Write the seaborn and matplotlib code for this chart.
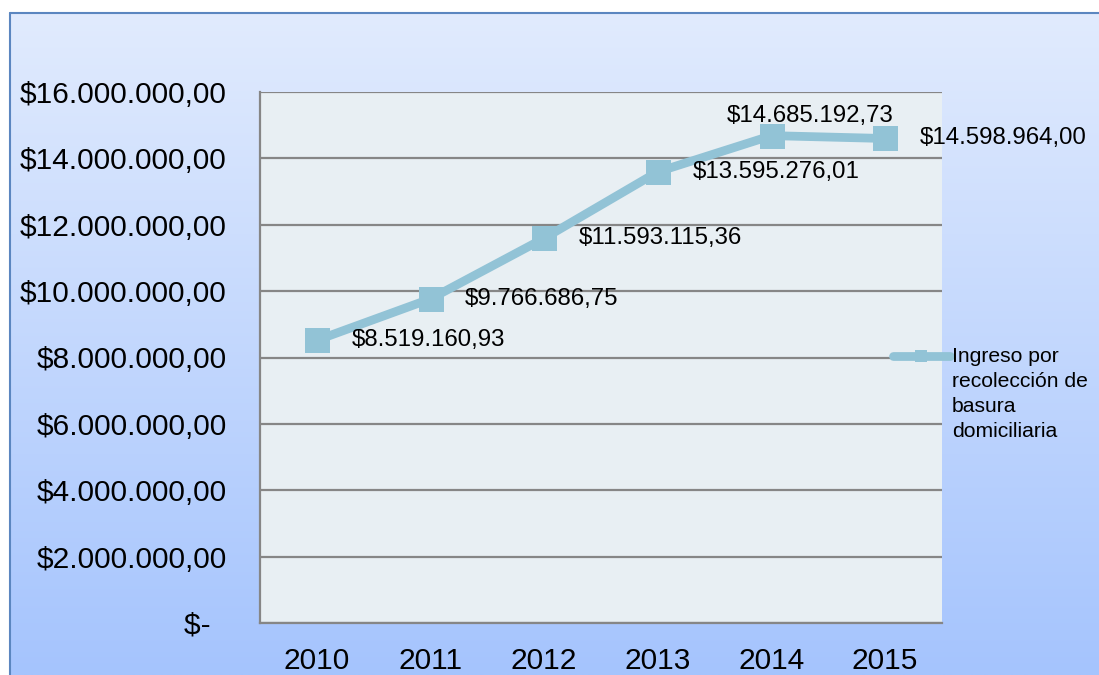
import numpy as np
import pandas as pd
import matplotlib
matplotlib.use("Agg")
import matplotlib.pyplot as plt
import seaborn as sns
from matplotlib.lines import Line2D

years = ["2010", "2011", "2012", "2013", "2014", "2015"]
values = [8519160.93, 9766686.75, 11593115.36, 13595276.01, 14685192.73, 14598964.00]
value_labels = ["$8.519.160,93", "$9.766.686,75", "$11.593.115,36",
                "$13.595.276,01", "$14.685.192,73", "$14.598.964,00"]
y_ticks = [0, 2e6, 4e6, 6e6, 8e6, 10e6, 12e6, 14e6, 16e6]
y_tick_labels = ["$-  ", "$2.000.000,00", "$4.000.000,00", "$6.000.000,00",
                 "$8.000.000,00", "$10.000.000,00", "$12.000.000,00",
                 "$14.000.000,00", "$16.000.000,00"]
series_name = "Ingreso por\nrecolección de\nbasura\ndomiciliaria"

sns.set_style("white")
plt.rcParams["font.family"] = ["Liberation Sans", "DejaVu Sans"]
plt.rcParams["text.color"] = "black"
plt.rcParams["xtick.color"] = "black"
plt.rcParams["ytick.color"] = "black"

W, H = 1099, 675
fig = plt.figure(figsize=(W / 100, H / 100), dpi=100)
fig.patch.set_facecolor("white")

# background gradient frame
bg = fig.add_axes([0, 0, 1, 1], zorder=-5)
bg.set_xlim(0, W)
bg.set_ylim(H, 0)
bg.axis("off")
top_c = np.array([0xe1, 0xeb, 0xfe]) / 255
bot_c = np.array([0xa5, 0xc4, 0xfd]) / 255
t = np.linspace(0, 1, 256)[:, None]
grad = (top_c[None, :] * (1 - t) + bot_c[None, :] * t)[:, None, :]
grad = np.repeat(grad, 2, axis=1)
bg.imshow(grad, extent=[10, W, H, 13], aspect="auto", interpolation="bilinear")
bg.plot([10, 10], [H, 13], color="#5b86c0", lw=1.5)
bg.plot([10, W], [13, 13], color="#5b86c0", lw=1.5)

ax = fig.add_axes([260 / W, 1 - 623 / H, (942 - 260) / W, (623 - 92) / H])
ax.set_facecolor("#e8eff3")

df = pd.DataFrame({"year": years, "value": values})
df["x"] = np.arange(len(years))
line_color = "#92c3d6"
sns.lineplot(data=df, x="x", y="value", ax=ax, color=line_color, lw=6.3,
             marker="s", markersize=18, markeredgewidth=0, legend=False, zorder=5)

ax.set_xlim(-0.5, len(years) - 0.5)
ax.set_ylim(0, 16e6)
ax.set_yticks(y_ticks)
ax.set_yticklabels(y_tick_labels, fontsize=21.5)
ax.set_xticks(df["x"])
ax.set_xticklabels(years, fontsize=21.5)
ax.tick_params(axis="y", length=0, pad=24)
ax.tick_params(axis="x", length=0, pad=17)
ax.set_xlabel("")
ax.set_ylabel("")
ax.grid(axis="y", color="#868686", lw=1.6)
ax.set_axisbelow(True)
for s in ["top", "right"]:
    ax.spines[s].set_visible(False)
for s in ["left", "bottom"]:
    ax.spines[s].set_color("#868686")
    ax.spines[s].set_linewidth(1.6)

for i, (v, lab) in enumerate(zip(values, value_labels)):
    if i == 4:
        ax.annotate(lab, (i, v), xytext=(28, 14), textcoords="offset points",
                    ha="center", va="center", fontsize=17.3, zorder=6)
    else:
        ax.annotate(lab, (i, v), xytext=(25, 0), textcoords="offset points",
                    ha="left", va="center", fontsize=17.3, zorder=6,
                    annotation_clip=False)

# legend (drawn on top of the plot area)
ov = fig.add_axes([0, 0, 1, 1], zorder=10)
ov.set_xlim(0, W)
ov.set_ylim(H, 0)
ov.axis("off")
ov.add_line(Line2D([893, 950], [356, 356], color=line_color, lw=6.3,
                   solid_capstyle="round"))
ov.add_line(Line2D([921], [356], color=line_color, marker="s", markersize=9,
                   markeredgewidth=0, lw=0))
ov.text(952, 347, series_name, fontsize=15.2, ha="left", va="top",
        linespacing=1.4)

fig.savefig("out.png", dpi=100)
